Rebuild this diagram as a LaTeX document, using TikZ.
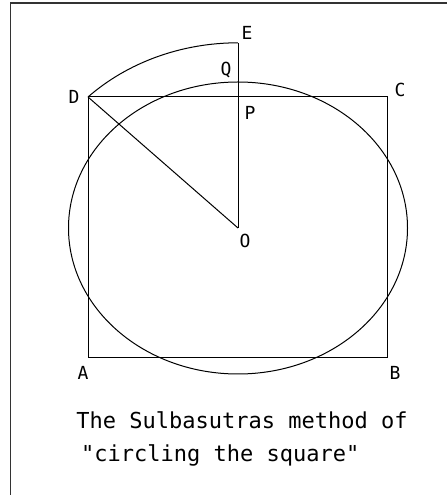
\documentclass[tikz,border=0pt]{standalone}
\usepackage{fontspec}
\setmainfont{DejaVu Sans Mono}[Ligatures=TeXOff]
\begin{document}
\begin{tikzpicture}[x=1pt,y=1pt,
  geo/.style={draw=black,line width=1pt},
  lbl/.style={font=\fontsize{18}{18}\selectfont,inner sep=0pt},
  captext/.style={font=\fontsize{22}{22}\selectfont,inner sep=0pt}]
\useasboundingbox (0,0) rectangle (447,495);
\draw[line width=1.4pt,black!80] (10.5,0) -- (10.5,492) -- (447,492);
% points
\coordinate (O) at (238,267);
\coordinate (A) at (88,137);
\coordinate (B) at (387,137);
\coordinate (C) at (387,398);
\coordinate (D) at (88,398);
\coordinate (E) at (238,452);
\coordinate (P) at (238,398);
\coordinate (Q) at (238,413);
% square and circle
\draw[geo] (A) -- (B) -- (C) -- (D) -- cycle;
\draw[geo] (O) ellipse[x radius=169.5, y radius=146];
% arc D to E about O
\draw[geo] (D) arc[start angle=135, end angle=90, x radius=212, y radius=185];
\draw[geo] (E) -- (O);
\draw[geo] (D) -- (O);
% labels
\node[lbl] (lE) at (247,462) {E};
\node[lbl] (lQ) at (226,425) {Q};
\node[lbl] (lD) at (74,398) {D};
\node[lbl] (lP) at (250,382) {P};
\node[lbl] (lC) at (400,405) {C};
\node[lbl] (lO) at (245,254) {O};
\node[lbl] (lA) at (83,122) {A};
\node[lbl] (lB) at (395,122) {B};
\node[captext] (t1) at (242,75) {The Sulbasutras method of};
\node[captext,anchor=west] (t2) at (81,40) {"circling the square"};
\end{tikzpicture}
\end{document}
